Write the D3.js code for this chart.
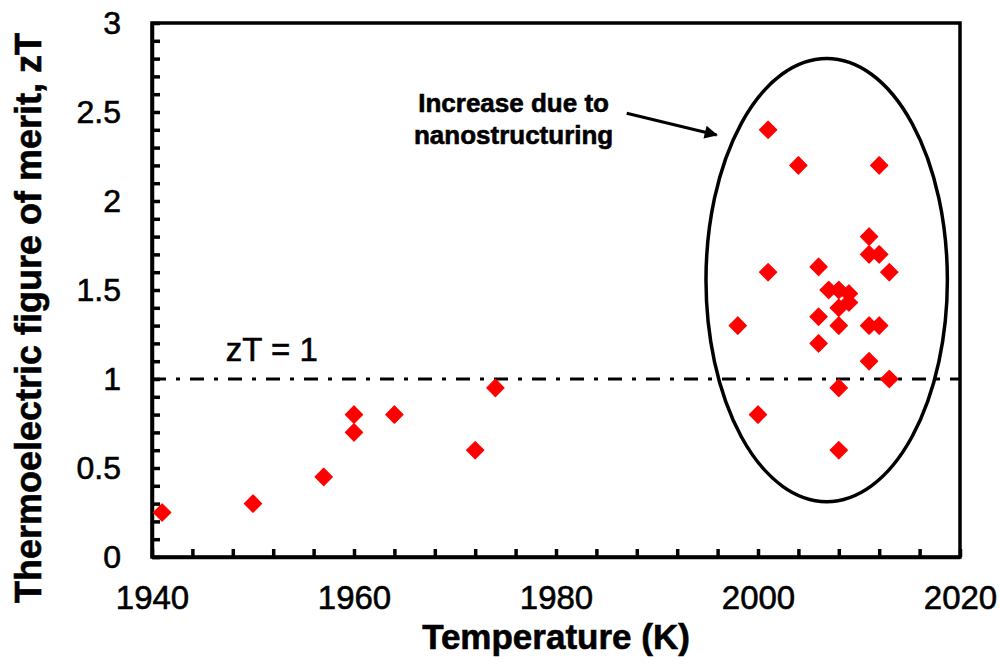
<!DOCTYPE html>
<html>
<head>
<meta charset="utf-8">
<script src="https://cdn.jsdelivr.net/npm/d3@7"></script>
<style>
  html, body { margin: 0; padding: 0; background: #fff; }
  svg { display: block; font-family: "Liberation Sans", Arial, sans-serif; }
  .heavy { stroke: #000; stroke-width: 0.6px; }
</style>
</head>
<body>
<svg id="chart" width="1000" height="667"></svg>
<script>
// Year each material was reported and its peak figure of merit
const years = [1941, 1950, 1957, 1960, 1960, 1964, 1972, 1974,
  2001, 2004, 2012, 2011, 2011, 2012, 2013, 2001, 2006, 2007, 2008, 2009,
  2009, 2008, 2006, 2008, 2011, 2012, 1998, 2006, 2011, 2013, 2008, 2000, 2008];
const ztValues = [0.25, 0.30, 0.45, 0.80, 0.70, 0.80, 0.60, 0.95,
  2.40, 2.20, 2.20, 1.80, 1.70, 1.70, 1.60, 1.60, 1.63, 1.50, 1.50, 1.48,
  1.43, 1.40, 1.35, 1.30, 1.30, 1.30, 1.30, 1.20, 1.10, 1.00, 0.95, 0.80, 0.60];

const xTicks = [1940, 1960, 1980, 2000, 2020];
const yTicks = [0, 0.5, 1, 1.5, 2, 2.5, 3];
const referenceZT = 1;

// Highlight ring around the recent (nanostructured) results, in data units
const ringCenter = [2006.8, 1.556];
const ringRadius = [11.95, 1.245];
const arrowFrom = [1987.0, 2.493];
const arrowTo = [1995.9, 2.371];
const noteLines = ["Increase due to", "nanostructuring"];

const svg = d3.select("#chart");
const margin = { left: 152, top: 23, right: 40, bottom: 110 };
const W = 1000 - margin.left - margin.right;
const H = 667 - margin.top - margin.bottom;

const x = d3.scaleLinear().domain([1940, 2020]).range([0, W]);
const y = d3.scaleLinear().domain([0, 3]).range([H, 0]);

const g = svg.append("g").attr("transform", `translate(${margin.left},${margin.top})`);

// frame
g.append("rect")
  .attr("x", 0).attr("y", 0).attr("width", W).attr("height", H)
  .attr("fill", "none").attr("stroke", "#000").attr("stroke-width", 3.5);

// axes with inward ticks; minor ticks every 4 years / 0.1
const isMajorX = d => xTicks.includes(d);
const isMajorY = d => yTicks.some(t => Math.abs(t - d) < 1e-9);

const xAxis = d3.axisBottom(x)
  .tickValues(d3.range(1940, 2021, 4))
  .tickSize(-8).tickSizeOuter(0)
  .tickFormat(d => isMajorX(d) ? d3.format("d")(d) : "");
const gx = g.append("g").attr("transform", `translate(0,${H})`).call(xAxis);
gx.selectAll(".tick").filter(d => !isMajorX(d)).select("text").remove();
gx.selectAll("text").attr("y", 29).attr("dy", "0.71em")
  .attr("class", "heavy")
  .style("font-size", "33px").attr("fill", "#000");

const yAxis = d3.axisLeft(y)
  .tickValues(d3.range(0, 31).map(i => i / 10))
  .tickSize(-8).tickSizeOuter(0)
  .tickFormat(d => isMajorY(d) ? d3.format("")(+d.toFixed(1)) : "");
const gy = g.append("g").call(yAxis);
gy.selectAll(".tick").filter(d => !isMajorY(d)).select("text").remove();
gy.selectAll("text").attr("x", -31).attr("dy", "0.34em")
  .attr("class", "heavy")
  .style("font-size", "32px").attr("fill", "#000");

[gx, gy].forEach(a => {
  a.select(".domain").attr("stroke-width", 3.5);
  a.selectAll(".tick line").attr("stroke-width", 3.5);
});

// zT = 1 reference line
g.append("line")
  .attr("x1", 0).attr("x2", W)
  .attr("y1", y(referenceZT)).attr("y2", y(referenceZT))
  .attr("stroke", "#000").attr("stroke-width", 3)
  .attr("stroke-dasharray", "14,10,4,10");
g.append("text")
  .attr("class", "heavy")
  .attr("x", x(1947.3)).attr("y", y(1.10))
  .style("font-size", "33px").text("zT = 1");

// ring
g.append("ellipse")
  .attr("cx", x(ringCenter[0])).attr("cy", y(ringCenter[1]))
  .attr("rx", x(ringCenter[0] + ringRadius[0]) - x(ringCenter[0]))
  .attr("ry", y(ringCenter[1] - ringRadius[1]) - y(ringCenter[1]))
  .attr("fill", "none").attr("stroke", "#000").attr("stroke-width", 3.5);

// arrow + note
svg.append("defs").append("marker")
  .attr("id", "head").attr("viewBox", "0 0 10 10")
  .attr("refX", 9).attr("refY", 5)
  .attr("markerWidth", 5).attr("markerHeight", 4.4)
  .attr("markerUnits", "strokeWidth").attr("orient", "auto")
  .append("path").attr("d", "M0,0L10,5L0,10Z").attr("fill", "#000");
g.append("line")
  .attr("x1", x(arrowFrom[0])).attr("y1", y(arrowFrom[1]))
  .attr("x2", x(arrowTo[0])).attr("y2", y(arrowTo[1]))
  .attr("stroke", "#000").attr("stroke-width", 3)
  .attr("marker-end", "url(#head)");
g.append("text")
  .attr("text-anchor", "middle")
  .attr("class", "heavy")
  .style("font-size", "26px").style("font-weight", "bold")
  .selectAll("tspan").data(noteLines).join("tspan")
  .attr("x", x(1975.8))
  .attr("y", (d, i) => y(i === 0 ? 2.50 : 2.323))
  .text(d => d);

// data points: red diamonds
const diamond = d3.symbol().type(d3.symbolDiamond2).size(190);
g.append("g").selectAll("path")
  .data(d3.range(years.length))
  .join("path")
  .attr("transform", i => `translate(${x(years[i])},${y(ztValues[i])})`)
  .attr("d", diamond)
  .attr("fill", "#ff0000")
  .attr("stroke", "#ff0000").attr("stroke-width", 1.2)
  .attr("stroke-linejoin", "round");

// axis titles
svg.append("text")
  .attr("class", "heavy")
  .attr("x", margin.left + W / 2).attr("y", 649)
  .attr("text-anchor", "middle")
  .style("font-size", "35px").style("font-weight", "bold")
  .text("Temperature (K)");
svg.append("text")
  .attr("class", "heavy")
  .attr("transform", "translate(41,318) rotate(-90)")
  .attr("text-anchor", "middle")
  .style("font-size", "36px").style("font-weight", "bold")
  .text("Thermoelectric figure of merit, zT");
</script>
</body>
</html>
